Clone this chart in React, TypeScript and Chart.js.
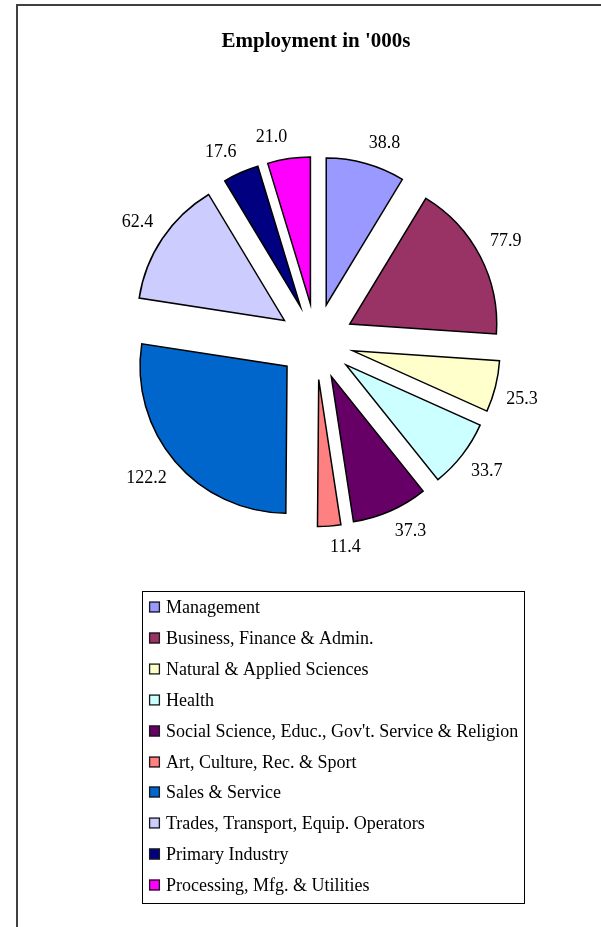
import { useEffect, useRef } from 'react';
import { Chart, registerables } from 'chart.js';

Chart.register(...registerables);

const TITLE = "Employment in '000s";
const categories = [
  'Management',
  'Business, Finance & Admin.',
  'Natural & Applied Sciences',
  'Health',
  "Social Science, Educ., Gov't. Service & Religion",
  'Art, Culture, Rec. & Sport',
  'Sales & Service',
  'Trades, Transport, Equip. Operators',
  'Primary Industry',
  'Processing, Mfg. & Utilities',
];
const employment = [38.8, 77.9, 25.3, 33.7, 37.3, 11.4, 122.2, 62.4, 17.6, 21.0];
const sliceColors = [
  '#9999FF',
  '#993366',
  '#FFFFCC',
  '#CCFFFF',
  '#660066',
  '#FF8080',
  '#0066CC',
  '#CCCCFF',
  '#000080',
  '#FF00FF',
];

const SERIF = '"Liberation Serif", "Times New Roman", serif';
const EXPLODE = 38;
const RADIUS = 147;
const LABEL_ANCHOR = 196;
const LABEL_HALF_H = 10;

const framePlugin = {
  id: 'frame',
  beforeDraw(chart: any) {
    const ctx = chart.ctx;
    ctx.save();
    ctx.fillStyle = '#ffffff';
    ctx.fillRect(0, 0, chart.width, chart.height);
    ctx.strokeStyle = '#404040';
    ctx.lineWidth = 2;
    ctx.strokeRect(17, 5, chart.width + 40, chart.height + 40);
    ctx.restore();
  },
};

const explodePlugin = {
  id: 'explode',
  beforeDatasetsDraw(chart: any) {
    const meta = chart.getDatasetMeta(0);
    meta.data.forEach((arc: any) => {
      arc._ox = arc.x;
      arc._oy = arc.y;
      const mid = (arc.startAngle + arc.endAngle) / 2;
      arc.x = arc._ox + Math.cos(mid) * EXPLODE;
      arc.y = arc._oy + Math.sin(mid) * EXPLODE;
    });
  },
  afterDatasetsDraw(chart: any) {
    const ctx = chart.ctx;
    const meta = chart.getDatasetMeta(0);
    const values = chart.data.datasets[0].data as number[];
    ctx.save();
    ctx.fillStyle = '#000';
    ctx.font = `18px ${SERIF}`;
    ctx.textAlign = 'center';
    ctx.textBaseline = 'middle';
    meta.data.forEach((arc: any, i: number) => {
      arc.x = arc._ox;
      arc.y = arc._oy;
      const mid = (arc.startAngle + arc.endAngle) / 2;
      const dx = Math.cos(mid);
      const dy = Math.sin(mid);
      const text = values[i].toFixed(1);
      const w = ctx.measureText(text).width;
      const px = arc.x + dx * LABEL_ANCHOR;
      const py = arc.y + dy * LABEL_ANCHOR;
      const x = px + Math.sign(dx) * w / 2;
      const y = py + Math.sign(dy) * LABEL_HALF_H;
      ctx.fillText(text, x, y);
    });
    ctx.restore();
  },
};

const legendBoxPlugin = {
  id: 'legendBox',
  afterDraw(chart: any) {
    const ctx = chart.ctx;
    const labels = chart.data.labels as string[];
    const colors = chart.data.datasets[0].backgroundColor as string[];
    ctx.save();
    ctx.strokeStyle = '#000';
    ctx.lineWidth = 1;
    ctx.strokeRect(142.5, 591.5, 382, 312);
    ctx.font = `18px ${SERIF}`;
    ctx.textAlign = 'left';
    ctx.textBaseline = 'middle';
    labels.forEach((label, i) => {
      const cy = Math.round(607 + i * 30.9);
      ctx.fillStyle = colors[i];
      ctx.fillRect(149, cy - 5.5, 11, 11);
      ctx.strokeStyle = '#1a1a1a';
      ctx.lineWidth = 1.3;
      ctx.strokeRect(149.6, cy - 4.9, 9.8, 9.8);
      ctx.fillStyle = '#000';
      ctx.fillText(label, 166, cy + 1);
    });
    ctx.restore();
  },
};

export default function App() {
  const canvasRef = useRef<HTMLCanvasElement | null>(null);

  useEffect(() => {
    const canvas = canvasRef.current;
    if (!canvas) return;
    const chart = new Chart(canvas, {
      type: 'pie',
      data: {
        labels: categories,
        datasets: [
          {
            data: employment,
            backgroundColor: sliceColors,
            borderColor: '#000000',
            borderWidth: 1.5,
            borderJoinStyle: 'miter',
            radius: RADIUS,
          } as any,
        ],
      },
      options: {
        responsive: false,
        animation: false,
        events: [],
        layout: { padding: { left: 31, right: 0, top: 0, bottom: 393.8 } },
        plugins: {
          legend: { display: false },
          tooltip: { enabled: false },
          title: {
            display: true,
            text: TITLE,
            color: '#000',
            font: { family: SERIF, size: 21, weight: 'bold', lineHeight: 1.2 },
            padding: { top: 29, bottom: 95.8 },
          },
        },
      } as any,
      plugins: [framePlugin, explodePlugin, legendBoxPlugin],
    });
    return () => chart.destroy();
  }, []);

  return (
    <div style={{ position: 'absolute', left: 0, top: 0, width: 601, height: 927 }}>
      <canvas ref={canvasRef} width={601} height={927} style={{ display: 'block' }} />
    </div>
  );
}
